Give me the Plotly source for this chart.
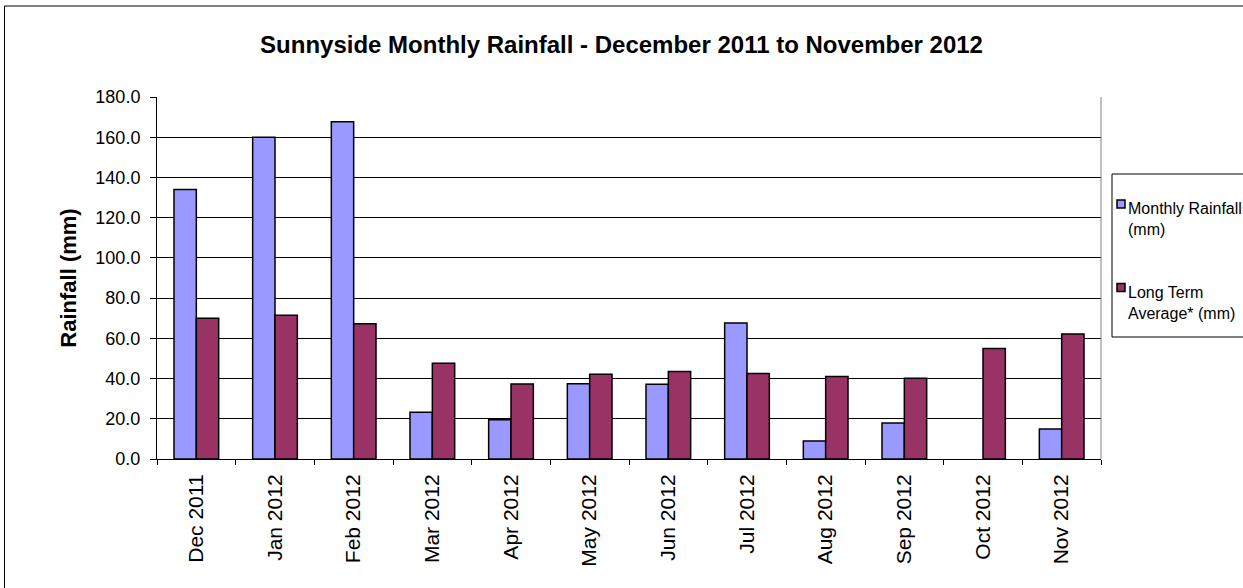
import plotly.graph_objects as go

months = ["Dec 2011", "Jan 2012", "Feb 2012", "Mar 2012", "Apr 2012", "May 2012",
          "Jun 2012", "Jul 2012", "Aug 2012", "Sep 2012", "Oct 2012", "Nov 2012"]
monthly_rainfall = [134.0, 160.0, 167.7, 23.3, 19.5, 37.4, 37.2, 67.6, 9.0, 17.9, None, 14.9]
long_term_avg = [70.0, 71.5, 67.2, 47.6, 37.3, 42.2, 43.5, 42.5, 41.0, 40.2, 54.9, 62.1]

series_names = ["Monthly Rainfall (mm)", "Long Term Average* (mm)"]
legend_labels = ["Monthly Rainfall<br>(mm)", "Long Term<br>Average* (mm)"]
colors = ["#9999FF", "#993366"]

W, H = 1243, 588
L, R, T, B = 157, 1101, 97, 459  # plot area in pixels


def px_x(x):
    return (x - L) / (R - L)


def px_y(y):
    return (B - y) / (B - T)


fig = go.Figure()
for name, vals, col in zip(series_names, [monthly_rainfall, long_term_avg], colors):
    fig.add_trace(go.Bar(x=months, y=vals, name=name,
                         marker=dict(color=col, line=dict(color="black", width=1.5))))

fig.update_layout(
    width=W, height=H,
    margin=dict(l=L, r=W - R, t=T, b=H - B),
    paper_bgcolor="white", plot_bgcolor="white",
    font=dict(family="Arial, Liberation Sans", size=18, color="black"),
    title=dict(text="<b>Sunnyside Monthly Rainfall - December 2011 to November 2012</b>",
               x=0.5, xanchor="center", y=1 - 45 / H, yanchor="middle",
               font=dict(size=24)),
    barmode="group", bargap=0.432, bargroupgap=0,
    showlegend=False,
)

fig.update_yaxes(range=[0, 180], dtick=20, tickformat=".1f",
                 showgrid=True, gridcolor="black", gridwidth=1,
                 showline=True, linecolor="black", linewidth=1,
                 ticks="outside", ticklen=6, tickcolor="black", ticklabelstandoff=6,
                 title=dict(text="<b>Rainfall (mm)</b>", font=dict(size=22), standoff=12),
                 zeroline=False)
fig.update_xaxes(showline=True, linecolor="black", linewidth=1,
                 ticks="outside", ticklen=5, tickcolor="black", tickson="boundaries",
                 tickangle=-90, tickfont=dict(size=21), ticklabelstandoff=6, showgrid=False)

# right border of plot area
fig.add_shape(type="line", xref="paper", yref="paper", x0=1, x1=1, y0=0, y1=1,
              line=dict(color="#808080", width=1))
# outer chart border
fig.add_shape(type="rect", xref="paper", yref="paper",
              x0=px_x(4.5), x1=px_x(W + 20), y0=px_y(H + 20), y1=px_y(6),
              line=dict(color="black", width=1), fillcolor="rgba(0,0,0,0)")

# legend box
fig.add_shape(type="rect", xref="paper", yref="paper",
              x0=px_x(1112), x1=px_x(W + 20), y0=px_y(337), y1=px_y(174),
              line=dict(color="black", width=1), fillcolor="white")
for i, (lab, col) in enumerate(zip(legend_labels, colors)):
    cy = 204 + i * 83.5
    fig.add_shape(type="rect", xref="paper", yref="paper",
                  x0=px_x(1117), x1=px_x(1125), y0=px_y(cy + 4), y1=px_y(cy - 4),
                  line=dict(color="black", width=1.5), fillcolor=col)
    fig.add_annotation(text=lab, xref="paper", yref="paper",
                       x=px_x(1126), y=px_y(cy - 6), xanchor="left", yanchor="top",
                       align="left", showarrow=False, font=dict(size=16))

fig.write_html("out.html", config={"displayModeBar": False},
               post_script="document.body.style.margin = '0';")
